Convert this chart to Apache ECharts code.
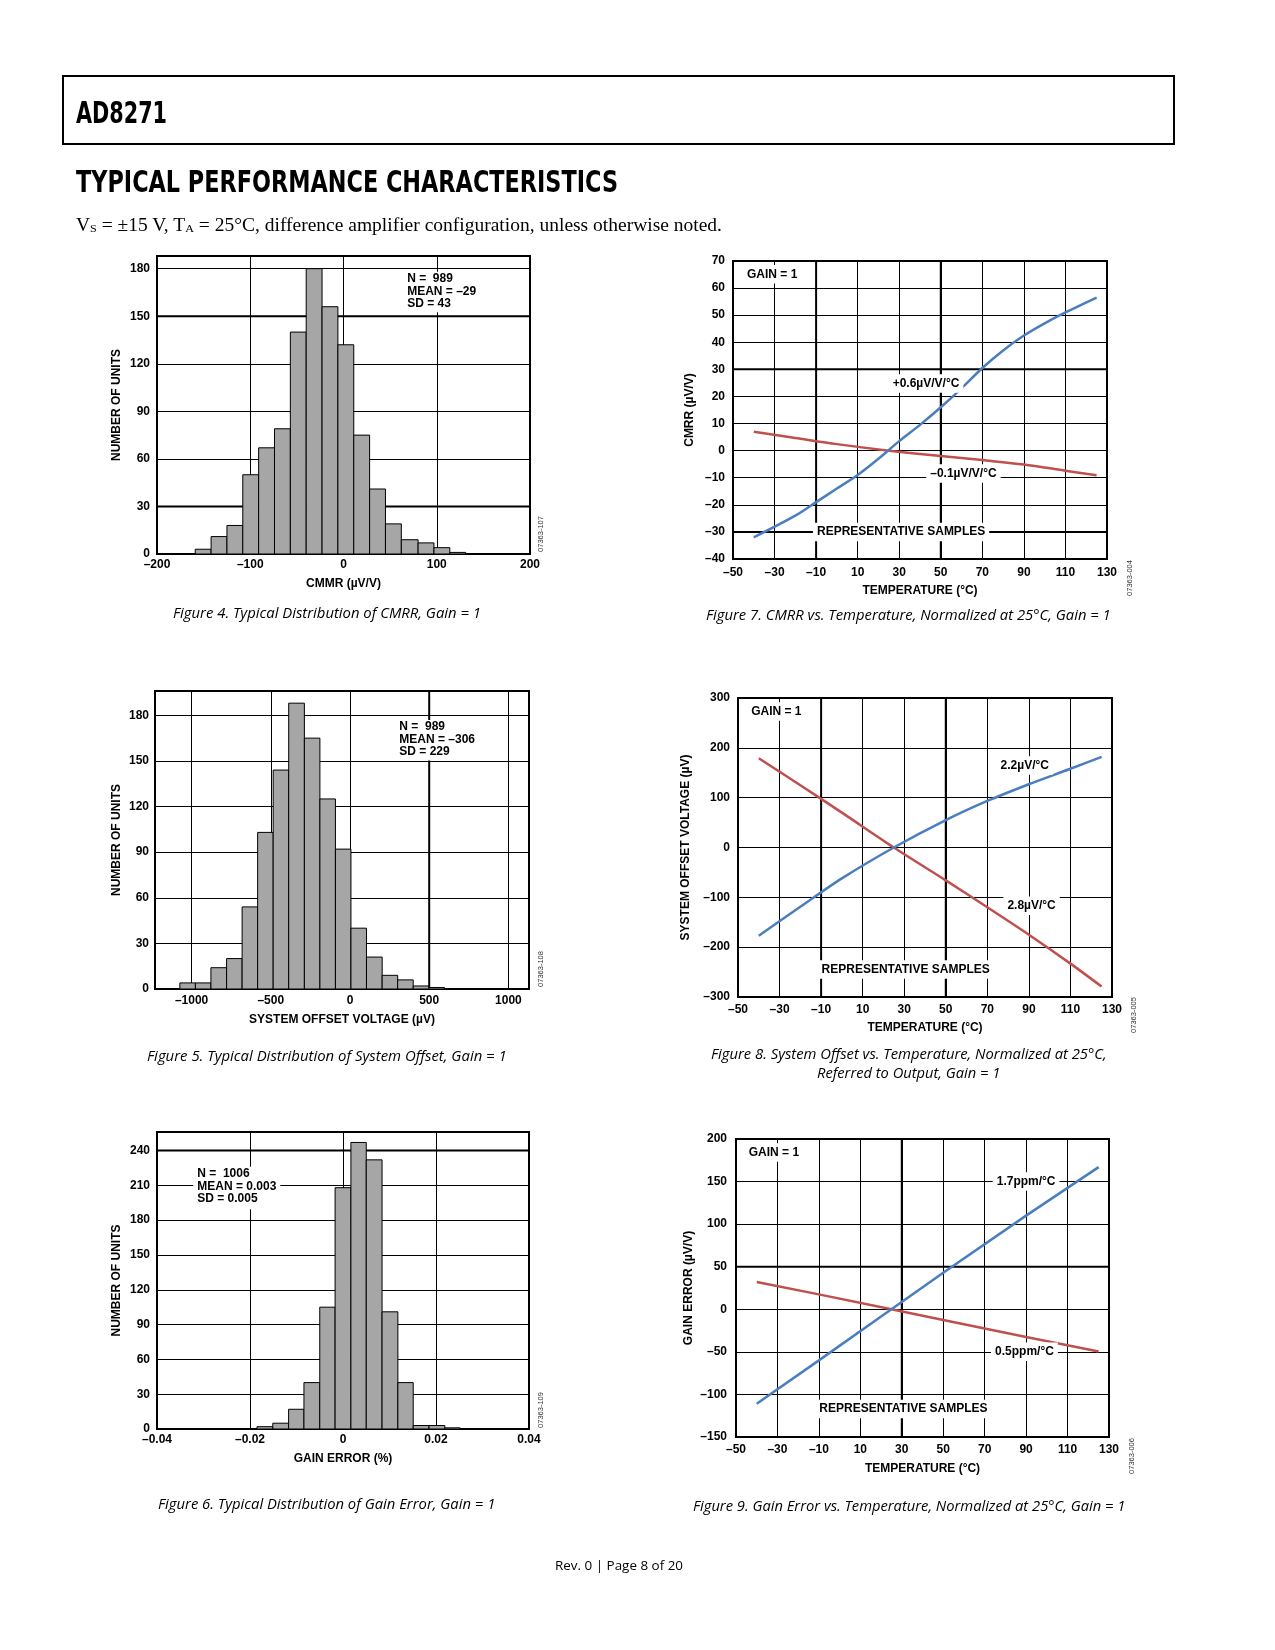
<!DOCTYPE html>
<html><head><meta charset="utf-8"><title>AD8271 Typical Performance Characteristics</title>
<script src="https://cdn.jsdelivr.net/npm/echarts@6.0.0/dist/echarts.min.js"></script>
<style>
html,body{margin:0;padding:0;background:#fff}
body{width:1275px;height:1650px;position:relative;overflow:hidden}
#chart{position:absolute;left:0;top:0;width:1275px;height:1650px}
#hdr{position:absolute;left:62px;top:75px;width:1113px;height:70px;border:2px solid #000;box-sizing:border-box}
.pt{position:absolute;white-space:nowrap;transform-origin:0 50%;color:#000;margin:0;padding:0}
</style></head><body>
<div id="chart"></div>
<div id="hdr"></div>
<script>
// ---------------- data ----------------
// Figure 4: distribution of CMRR
const cmrrBinEdges = [-159,-142,-125,-108,-91,-74,-57,-40,-23,-6,11,28,45,62,80,97,114,131];
const cmrrCounts   = [3,11,18,50,67,79,140,180,156,132,75,41,19,9,7,4,1];
const cmrrXTicks   = [-200,-100,0,100,200];
const cmrrYTicks   = [0,30,60,90,120,150,180];
const cmrrStats    = ['N =  989','MEAN = \u201329','SD = 43'];

// Figure 5: distribution of system offset
const offsetBinEdges = [-1074,-976,-878,-779,-681,-583,-485,-387,-288,-190,-92,6,104,203,301,399,497,596];
const offsetCounts   = [4,4,14,20,54,103,144,188,165,125,92,40,21,9,6,2,1];
const offsetXTicks   = [-1000,-500,0,500,1000];
const offsetYTicks   = [0,30,60,90,120,150,180];
const offsetStats    = ['N =  989','MEAN = \u2013306','SD = 229'];

// Figure 6: distribution of gain error
const gainBinEdges = [-0.0185,-0.0151,-0.0117,-0.0084,-0.0050,-0.0017,0.0017,0.0050,0.0084,0.0118,0.0151,0.0185,0.0219,0.0252];
const gainCounts   = [2,5,17,40,105,208,247,232,101,40,3,3,1];
const gainXTicks   = [-0.04,-0.02,0,0.02,0.04];
const gainYTicks   = [0,30,60,90,120,150,180,210,240];
const gainStats    = ['N =  1006','MEAN = 0.003','SD = 0.005'];

// temperature axes (Figures 7, 8, 9)
const tempTicks = [-50,-30,-10,10,30,50,70,90,110,130];

// Figure 7: CMRR vs temperature
const cmrrTempYTicks = [-40,-30,-20,-10,0,10,20,30,40,50,60,70];
const cmrrTempBlue = [[-40,-32],[-20,-24],[-10,-19],[0,-14],[10,-9],[20,-3],[30,3.5],[40,9.5],[50,16],[60,23],[70,30.5],[80,37],[90,42.5],[100,47],[110,51],[125,56.5]];
const cmrrTempRed  = [[-40,7],[-20,4.7],[0,2.4],[25,0],[50,-2],[70,-3.5],[90,-5.1],[110,-7.4],[125,-9.1]];
const cmrrTempNotes = ['GAIN = 1','+0.6\u00b5V/V/\u00b0C','\u20130.1\u00b5V/V/\u00b0C','REPRESENTATIVE SAMPLES'];

// Figure 8: system offset vs temperature
const offsetTempYTicks = [-300,-200,-100,0,100,200,300];
const offsetTempBlue = [[-40,-177],[-20,-119],[0,-62],[25,0],[50,55],[70,93.5],[90,127],[110,158],[125,182]];
const offsetTempRed  = [[-40,179],[-20,125],[0,70],[25,0],[50,-66],[70,-120],[90,-175],[110,-233],[125,-279]];
const offsetTempNotes = ['GAIN = 1','2.2\u00b5V/\u00b0C','2.8\u00b5V/\u00b0C','REPRESENTATIVE SAMPLES'];

// Figure 9: gain error vs temperature
const gainTempYTicks = [-150,-100,-50,0,50,100,150,200];
const gainTempBlue = [[-40,-111],[-10,-60],[25,0],[50,43],[90,110],[125,167]];
const gainTempRed  = [[-40,32],[-10,17.5],[25,0],[50,-12.5],[90,-32.5],[125,-49.5]];
const gainTempNotes = ['GAIN = 1','1.7ppm/\u00b0C','0.5ppm/\u00b0C','REPRESENTATIVE SAMPLES'];

// ---------------- helpers ----------------
const FONT = '"Liberation Sans", Arial, Helvetica, sans-serif';
const BLUE = '#4a7ebf';
const RED = '#c0504d';

function fmtTick(v){
  const s = String(+Math.abs(v).toFixed(6));
  return (v < -1e-12 ? '\u2013' : '') + s;
}
function tickFmt(list){
  return function(v){
    for (const t of list){ if (Math.abs(t - v) < 1e-9) return fmtTick(t); }
    return '';
  };
}
const labelStyle = {color:'#000', fontFamily:FONT, fontWeight:'bold', fontSize:12};

function mkX(gi, o){
  const ax = {
    type:'value', gridIndex:gi, position:'bottom', min:o.min, max:o.max,
    axisLine:{show:false}, axisTick:{show:false},
    splitLine:{show:true, lineStyle:{color:'#000', width:1}},
    axisLabel:Object.assign({margin:o.margin, formatter:tickFmt(o.ticks), hideOverlap:false}, labelStyle),
    name:o.name, nameLocation:'middle', nameGap:o.nameGap, nameMoveOverlap:false,
    nameTextStyle:Object.assign({}, labelStyle)
  };
  if (o.interval != null) ax.interval = o.interval;
  if (o.fixedStep != null){ ax.minInterval = o.fixedStep; ax.maxInterval = o.fixedStep; ax.splitNumber = 5; }
  return ax;
}
function mkY(gi, o){
  return {
    type:'value', gridIndex:gi, position:'left', min:o.min, max:o.max, interval:o.interval,
    axisLine:{show:false}, axisTick:{show:false},
    splitLine:{show:true, lineStyle:{color:'#000', width:1}},
    axisLabel:Object.assign({margin:o.margin, formatter:tickFmt(o.ticks), hideOverlap:false}, labelStyle),
    name:o.name, nameLocation:'middle', nameGap:o.nameGap, nameRotate:90, nameMoveOverlap:false,
    nameTextStyle:Object.assign({}, labelStyle)
  };
}
function histSeries(gi, edges, counts){
  return {
    type:'custom', xAxisIndex:gi, yAxisIndex:gi, z:3, silent:true,
    data: counts.map((c, i) => [edges[i], edges[i+1], c]),
    encode:{x:[0,1], y:2},
    renderItem:function(params, api){
      const a = api.coord([api.value(0), api.value(2)]);
      const b = api.coord([api.value(1), 0]);
      return {type:'rect', shape:{x:a[0], y:a[1], width:b[0]-a[0], height:b[1]-a[1]},
              style:{fill:'#a6a6a6', stroke:'#000', lineWidth:1}};
    }
  };
}
function boldSeries(gi, hVals, vVals, xMin, yMin){
  const data = hVals.map(v => [xMin, v, 0]).concat(vVals.map(v => [v, yMin, 1]));
  return {
    type:'custom', xAxisIndex:gi, yAxisIndex:gi, z:1, silent:true, data:data,
    encode:{x:0, y:1},
    renderItem:function(params, api){
      const cs = params.coordSys;
      const p = api.coord([api.value(0), api.value(1)]);
      const shape = api.value(2) === 0
        ? {x1:cs.x, y1:p[1], x2:cs.x + cs.width, y2:p[1]}
        : {x1:p[0], y1:cs.y, x2:p[0], y2:cs.y + cs.height};
      return {type:'line', shape:shape, style:{stroke:'#000', lineWidth:2}};
    }
  };
}
function curve(gi, data, color, smooth){
  return {type:'line', xAxisIndex:gi, yAxisIndex:gi, data:data, smooth:smooth, showSymbol:false,
          symbol:'none', z:4, silent:true, lineStyle:{color:color, width:2.5}, itemStyle:{color:color}};
}
function noteSeries(gi, notes){
  return {
    type:'custom', xAxisIndex:gi, yAxisIndex:gi, z:10, silent:true,
    data: notes.map(n => [n.at[0], n.at[1]]),
    encode:{x:0, y:1},
    renderItem:function(params, api){
      const n = notes[params.dataIndex];
      const p = api.coord([api.value(0), api.value(1)]);
      return {type:'text', x:p[0], y:p[1], z2:10,
        style:{text:n.text, fill:'#000', fontFamily:FONT, fontWeight:'bold', fontSize:12, lineHeight:12.5,
               align:n.align || 'center', verticalAlign:n.va || 'middle',
               backgroundColor:'#fff', padding:n.pad || [3,4]}};
    }
  };
}

// ---------------- layout ----------------
const grids = [
  {left:157, top:256, width:373, height:298},   // Fig 4
  {left:733, top:261, width:374, height:298},   // Fig 7
  {left:155, top:691, width:374, height:298},   // Fig 5
  {left:738, top:698, width:374, height:299},   // Fig 8
  {left:157, top:1132, width:372, height:297},  // Fig 6
  {left:736, top:1139, width:373, height:298}   // Fig 9
].map(g => Object.assign({show:true, borderColor:'#000', borderWidth:2, backgroundColor:'transparent', containLabel:false, outerBoundsMode:'none'}, g));

const T_NAME = 'TEMPERATURE (\u00b0C)';
const xAxes = [
  mkX(0, {min:-200, max:200, interval:100, ticks:cmrrXTicks, margin:5, name:'CMMR (\u00b5V/V)', nameGap:24}),
  mkX(1, {min:-50, max:130, interval:20, ticks:tempTicks, margin:8, name:T_NAME, nameGap:26}),
  mkX(2, {min:-1231, max:1130, fixedStep:500, ticks:offsetXTicks, margin:6, name:'SYSTEM OFFSET VOLTAGE (\u00b5V)', nameGap:25}),
  mkX(3, {min:-50, max:130, interval:20, ticks:tempTicks, margin:7, name:T_NAME, nameGap:25}),
  mkX(4, {min:-0.04, max:0.04, interval:0.02, ticks:gainXTicks, margin:5, name:'GAIN ERROR (%)', nameGap:24}),
  mkX(5, {min:-50, max:130, interval:20, ticks:tempTicks, margin:7, name:T_NAME, nameGap:26})
];
const yAxes = [
  mkY(0, {min:0, max:188, interval:30, ticks:cmrrYTicks, margin:7, name:'NUMBER OF UNITS', nameGap:34}),
  mkY(1, {min:-40, max:70, interval:10, ticks:cmrrTempYTicks, margin:8, name:'CMRR (\u00b5V/V)', nameGap:37}),
  mkY(2, {min:0, max:196, interval:30, ticks:offsetYTicks, margin:6, name:'NUMBER OF UNITS', nameGap:32}),
  mkY(3, {min:-300, max:300, interval:100, ticks:offsetTempYTicks, margin:8, name:'SYSTEM OFFSET VOLTAGE (\u00b5V)', nameGap:46}),
  mkY(4, {min:0, max:256, interval:30, ticks:gainYTicks, margin:7, name:'NUMBER OF UNITS', nameGap:34}),
  mkY(5, {min:-150, max:200, interval:50, ticks:gainTempYTicks, margin:9, name:'GAIN ERROR (\u00b5V/V)', nameGap:41})
];

const series = [
  boldSeries(0, [150, 30], [], -200, 0),
  histSeries(0, cmrrBinEdges, cmrrCounts),
  noteSeries(0, [{text:cmrrStats.join('\n'), at:[64, 178], align:'left', va:'top', pad:[1,4,2,4]}]),

  boldSeries(1, [30, -30], [-10, 50], -50, -40),
  curve(1, cmrrTempRed, RED, 0.3),
  curve(1, cmrrTempBlue, BLUE, 0.3),
  noteSeries(1, [
    {text:cmrrTempNotes[0], at:[-45.2, 65.1], align:'left'},
    {text:cmrrTempNotes[1], at:[42.9, 24.8]},
    {text:cmrrTempNotes[2], at:[60.9, -8.4]},
    {text:cmrrTempNotes[3], at:[30.9, -30]}
  ]),

  boldSeries(2, [], [500], -1231, 0),
  histSeries(2, offsetBinEdges, offsetCounts),
  noteSeries(2, [{text:offsetStats.join('\n'), at:[286, 177], align:'left', va:'top', pad:[1,4,2,4]}]),

  boldSeries(3, [], [-10, 50], -50, -300),
  curve(3, offsetTempRed, RED, 0.3),
  curve(3, offsetTempBlue, BLUE, 0.3),
  noteSeries(3, [
    {text:offsetTempNotes[0], at:[-45.6, 273], align:'left'},
    {text:offsetTempNotes[1], at:[88, 164.6]},
    {text:offsetTempNotes[2], at:[91.3, -117]},
    {text:offsetTempNotes[3], at:[30.7, -245]}
  ]),

  boldSeries(4, [240], [], -0.04, 0),
  histSeries(4, gainBinEdges, gainCounts),
  noteSeries(4, [{text:gainStats.join('\n'), at:[-0.0322, 226], align:'left', va:'top', pad:[1,4,4,4]}]),

  boldSeries(5, [50], [30], -50, -150),
  curve(5, gainTempRed, RED, false),
  curve(5, gainTempBlue, BLUE, false),
  noteSeries(5, [
    {text:gainTempNotes[0], at:[-45.8, 184], align:'left'},
    {text:gainTempNotes[1], at:[90, 150]},
    {text:gainTempNotes[2], at:[89.2, -50]},
    {text:gainTempNotes[3], at:[30.8, -117.2]}
  ])
];

const codes = [
  {t:'07363-107', x:541, y:534}, {t:'07363-004', x:1130, y:578},
  {t:'07363-108', x:541, y:969}, {t:'07363-005', x:1134, y:1015},
  {t:'07363-109', x:541, y:1410}, {t:'07363-006', x:1132, y:1456}
];

const chart = echarts.init(document.getElementById('chart'), null, {renderer:'canvas', devicePixelRatio:1});
chart.setOption({
  animation:false,
  backgroundColor:'#fff',
  textStyle:{fontFamily:FONT},
  grid:grids, xAxis:xAxes, yAxis:yAxes, series:series,
  graphic: codes.map(c => ({type:'text', x:c.x, y:c.y, rotation:Math.PI/2, silent:true,
    style:{text:c.t, fontFamily:FONT, fontSize:7.5, fill:'#333', align:'center', verticalAlign:'middle'}}))
});

// ---------------- page text ----------------
const CAP = 'italic 14px "Open Sans", "Noto Sans", sans-serif';
const pageTexts = [
  {html:'AD8271', left:75.7, cy:112.5, w:91, fs:30, font:'bold 30px "DejaVu Sans Condensed", "Liberation Sans Narrow", "DejaVu Sans", sans-serif'},
  {html:'TYPICAL PERFORMANCE CHARACTERISTICS', left:75.5, cy:181.5, w:542, fs:31, font:'bold 31px "DejaVu Sans Condensed", "Liberation Sans Narrow", "DejaVu Sans", sans-serif'},
  {html:'V<span style="font-size:0.62em;vertical-align:-0.08em">S</span> = \u00b115 V, T<span style="font-size:0.62em;vertical-align:-0.08em">A</span> = 25\u00b0C, difference amplifier configuration, unless otherwise noted.', left:75.5, cy:224.5, w:646, fs:18, font:'18px "Liberation Serif", "DejaVu Serif", serif'},
  {html:'Figure 4. Typical Distribution of CMRR, Gain = 1', cx:326.7, cy:613.3, w:308, fs:14, font:CAP},
  {html:'Figure 7. CMRR vs. Temperature, Normalized at 25\u00b0C, Gain = 1', cx:908.3, cy:615.3, w:404.7, fs:14, font:CAP},
  {html:'Figure 5. Typical Distribution of System Offset, Gain = 1', cx:326.7, cy:1055.7, w:359.7, fs:14, font:CAP},
  {html:'Figure 8. System Offset vs. Temperature, Normalized at 25\u00b0C,', cx:908.8, cy:1054.3, w:395.7, fs:14, font:CAP},
  {html:'Referred to Output, Gain = 1', cx:908.3, cy:1073.3, w:183.3, fs:14, font:CAP},
  {html:'Figure 6. Typical Distribution of Gain Error, Gain = 1', cx:327, cy:1504, w:337.3, fs:14, font:CAP},
  {html:'Figure 9. Gain Error vs. Temperature, Normalized at 25\u00b0C, Gain = 1', cx:908.8, cy:1505.7, w:432.3, fs:14, font:CAP},
  {html:'Rev. 0 | Page 8 of 20', cx:619, cy:1565, w:128, fs:13, font:'13px "Open Sans", "Noto Sans", sans-serif'}
];
for (const t of pageTexts){
  const d = document.createElement('div');
  d.className = 'pt';
  d.style.font = t.font;
  d.style.lineHeight = t.fs + 'px';
  d.style.height = t.fs + 'px';
  d.innerHTML = t.html;
  document.body.appendChild(d);
  const w0 = d.getBoundingClientRect().width || 1;
  const k = t.w / w0;
  const left = (t.cx != null) ? (t.cx - t.w / 2) : t.left;
  d.style.left = left + 'px';
  d.style.top = (t.cy - t.fs / 2) + 'px';
  d.style.transform = 'scaleX(' + k + ')';
}
</script>
</body></html>
